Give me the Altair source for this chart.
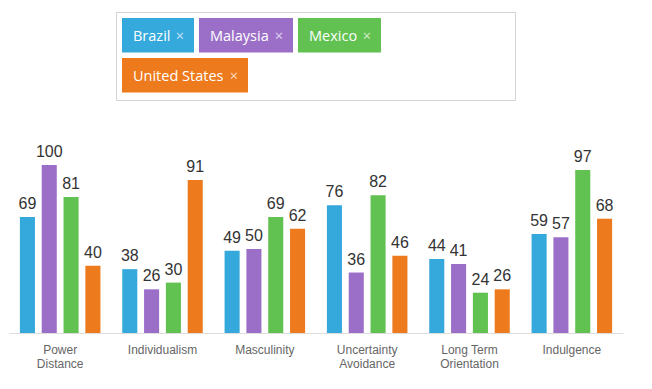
import altair as alt
import pandas as pd

# ---- data ----
dimensions = ["Power Distance", "Individualism", "Masculinity",
              "Uncertainty Avoidance", "Long Term Orientation", "Indulgence"]
countries = ["Brazil", "Malaysia", "Mexico", "United States"]
brazil = [69, 38, 49, 76, 44, 59]
malaysia = [100, 26, 50, 36, 41, 57]
mexico = [81, 30, 69, 82, 24, 97]
united_states = [40, 91, 62, 46, 26, 68]
colors = ["#35a9dc", "#9b6fc8", "#61c151", "#ed7a1c"]

series = [brazil, malaysia, mexico, united_states]
rows = []
for c, vals in zip(countries, series):
    for d, v in zip(dimensions, vals):
        rows.append({"dimension": d, "country": c, "value": v})
df = pd.DataFrame(rows)

# ---- layout constants ----
W, H = 614, 168
PAD_LEFT, PAD_TOP = 1, 157
OX, OY = 8 + PAD_LEFT, 8 + PAD_TOP  # page position of plot origin

x_enc = alt.X("dimension:N", sort=dimensions,
              scale=alt.Scale(paddingInner=0, paddingOuter=0),
              axis=alt.Axis(title=None, labelAngle=0, ticks=False, grid=False,
                            domainColor="#dddddd", domainWidth=1,
                            labelColor="#666666", labelFontSize=12,
                            labelFont="Liberation Sans", labelPadding=11,
                            labelLineHeight=14,
                            labelExpr="datum.label == 'Long Term Orientation' ? ['Long Term', 'Orientation'] : split(datum.label, ' ')"))
xo_enc = alt.XOffset("country:N", sort=countries,
                     scale=alt.Scale(paddingInner=0.31, paddingOuter=0.5))
y_enc = alt.Y("value:Q", scale=alt.Scale(domain=[0, 100], nice=False), axis=None)

base = alt.Chart(df)
bars = base.mark_bar().encode(
    x=x_enc, xOffset=xo_enc, y=y_enc,
    color=alt.Color("country:N", scale=alt.Scale(domain=countries, range=colors), legend=None),
)
labels = base.mark_text(baseline="bottom", dy=-5, fontSize=16,
                        font="Liberation Sans", color="#333333").encode(
    x=x_enc, xOffset=xo_enc, y=y_enc, text="value:Q")

# ---- legend (chips) ----
dummy = alt.Data(values=[{}])
chip_pos = [  # page px: x0, x1, y0, y1
    (122, 194, 18, 52.5),
    (199, 293, 18, 52.5),
    (298, 381, 18, 52.5),
    (122, 248, 58, 92.5),
]
legend_layers = [
    alt.Chart(dummy).mark_rect(fill="white", stroke="#d4d4d4", strokeWidth=1).encode(
        x=alt.value(116.5 - OX), x2=alt.value(515.5 - OX),
        y=alt.value(12.5 - OY), y2=alt.value(100.5 - OY))
]
for name, col, (x0, x1, y0, y1) in zip(countries, colors, chip_pos):
    yc = (y0 + y1) / 2 + 1.5
    legend_layers.append(alt.Chart(dummy).mark_rect(fill=col).encode(
        x=alt.value(x0 - OX), x2=alt.value(x1 - OX),
        y=alt.value(y0 - OY), y2=alt.value(y1 - OY)))
    legend_layers.append(alt.Chart(dummy).mark_text(
        align="left", baseline="middle", color="white", fontSize=14.5,
        font="Open Sans").encode(
        x=alt.value(x0 + 11 - OX), y=alt.value(yc - OY),
        text=alt.value(name)))
    legend_layers.append(alt.Chart(dummy).mark_text(
        align="right", baseline="middle", color="white", opacity=0.7,
        fontSize=14.5, font="Open Sans").encode(
        x=alt.value(x1 - 10 - OX), y=alt.value(yc - OY),
        text=alt.value("×")))

chart = alt.layer(bars, labels, *legend_layers).properties(
    width=W, height=H,
    autosize=alt.AutoSizeParams(type="none"),
    padding={"left": PAD_LEFT, "top": PAD_TOP, "right": 20, "bottom": 45},
).configure_view(stroke=None)

chart.save("out.html", embed_options={"renderer": "svg", "actions": False})
